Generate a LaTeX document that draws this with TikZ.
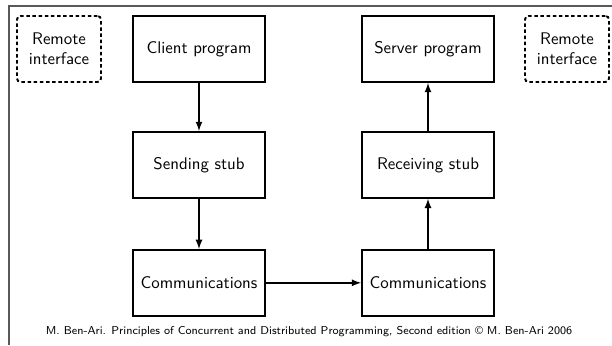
\documentclass[tikz,border=0pt]{standalone}
\usetikzlibrary{positioning}

\begin{document}
\begin{tikzpicture}[x=0.02cm,y=-0.02cm,font=\sffamily\fontsize{9.6}{11.5}\selectfont,
    box/.style={draw,line width=1.1pt,minimum width=2.64cm,minimum height=1.32cm},
    remote/.style={draw,dash pattern=on 2pt off 1.5pt,line width=1.1pt,rounded corners=2pt,
        minimum width=1.68cm,minimum height=1.32cm,align=center},
    link/.style={->,>=latex,line width=0.8pt}]
\useasboundingbox (0,0) rectangle (612,345);
\draw [gray!70!black,line width=0.8pt] (9,345) -- (9,6) -- (612,6);
\node [box] (client) at (199,49) {Client program};
\node [box,below=0.96cm of client] (send) {Sending stub};
\node [box,below=1cm of send] (comm1) {Communications};
\node [box] (server) at (428,49) {Server program};
\node [box,below=0.96cm of server] (recv) {Receiving stub};
\node [box,below=1cm of recv] (comm2) {Communications};
\node [remote] (remL) at (59,49) {Remote\\interface};
\node [remote] (remR) at (567,49) {Remote\\interface};
\draw (client.south) [link] -- (send.north);
\draw (send.south) [link] -- (comm1.north);
\draw (comm1.east) [link] -- (comm2.west);
\draw (comm2.north) [link] -- (recv.south);
\draw (recv.north) [link] -- (server.south);
\node [font=\sffamily\fontsize{6.5}{8}\selectfont] (credit) at (309,332)
    {M. Ben-Ari. Principles of Concurrent and Distributed Programming, Second edition \copyright{} M. Ben-Ari 2006};
\end{tikzpicture}
\end{document}
